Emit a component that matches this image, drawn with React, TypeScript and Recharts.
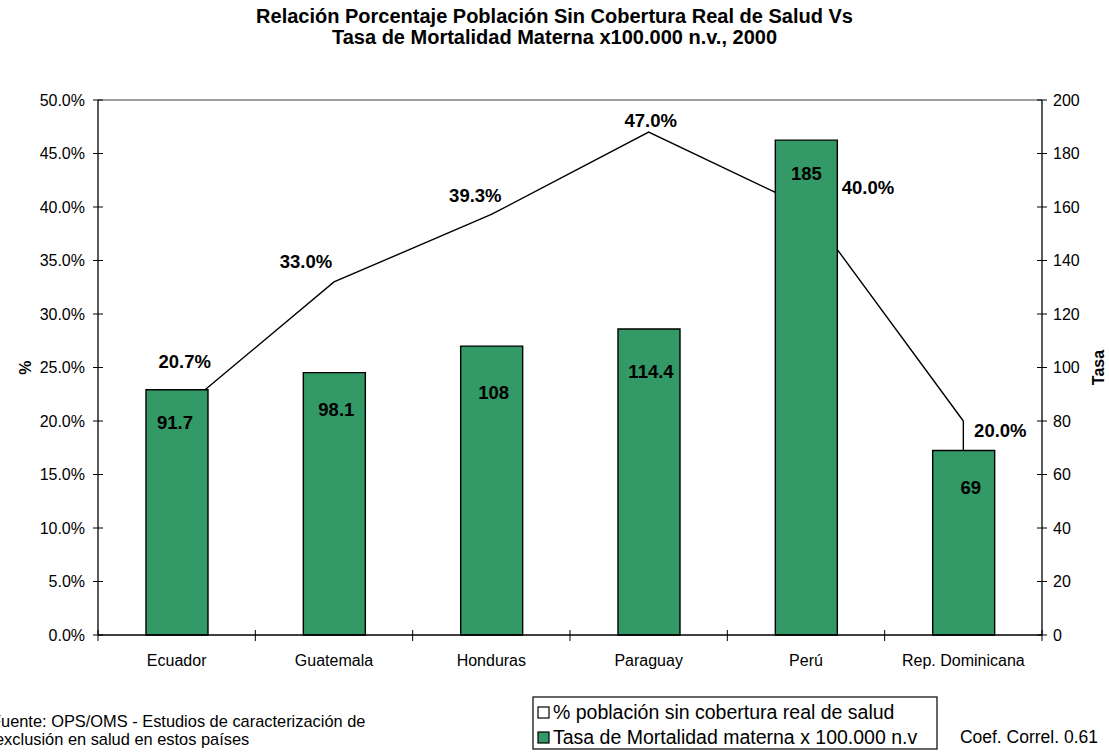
import {
  Bar,
  ComposedChart,
  LabelList,
  Line,
  ReferenceLine,
  XAxis,
  YAxis
} from "recharts";

const paises = ["Ecuador", "Guatemala", "Honduras", "Paraguay", "Perú", "Rep. Dominicana"];
const sinCobertura = [20.7, 33.0, 39.3, 47.0, 40.0, 20.0];
const mortalidad = [91.7, 98.1, 108, 114.4, 185, 69];
const pctTicks = [0, 5, 10, 15, 20, 25, 30, 35, 40, 45, 50];
const tasaTicks = [0, 20, 40, 60, 80, 100, 120, 140, 160, 180, 200];

// manual label placement, like the hand-moved labels in the original sheet
const lineLabelOffset: [number, number][] = [
  [8, -52],
  [-28, -21],
  [-16, -19],
  [2, -12],
  [62, -20],
  [37, 9]
];
const barLabelOffset: [number, number][] = [
  [-2, 33],
  [2, 37],
  [2, 46],
  [2, 42],
  [0, 33],
  [7, 37]
];

const W = 1109;
const H = 754;
const LEFT = 98;
const RIGHT = 67;
const TOP = 100;
const BOTTOM = 119;
const BAND = (W - LEFT - RIGHT) / paises.length;
const FONT = "'Liberation Sans', Arial, Helvetica, sans-serif";
const GREEN = "#339966";

const rows = paises.map((pais, i) => ({
  pais,
  pct: sinCobertura[i],
  tasa: mortalidad[i]
}));

function CategoryTick(props: any) {
  const { x, y, payload, index } = props;
  const left = x - BAND / 2;
  return (
    <g>
      <line x1={left} y1={y - 5} x2={left} y2={y + 6} stroke="#000" />
      {index === paises.length - 1 && (
        <line x1={left + BAND} y1={y - 5} x2={left + BAND} y2={y + 6} stroke="#000" />
      )}
      <text x={x} y={y + 31} textAnchor="middle" fontSize={16} fill="#000" fontFamily={FONT}>
        {payload.value}
      </text>
    </g>
  );
}

function PctTick(props: any) {
  const { x, y, payload } = props;
  return (
    <g>
      <line x1={x - 5} y1={y} x2={x + 5} y2={y} stroke="#000" />
      <text x={x - 13} y={y} dy="0.36em" textAnchor="end" fontSize={16} fill="#000" fontFamily={FONT}>
        {`${Number(payload.value).toFixed(1)}%`}
      </text>
    </g>
  );
}

function TasaTick(props: any) {
  const { x, y, payload } = props;
  return (
    <g>
      <line x1={x - 5} y1={y} x2={x + 5} y2={y} stroke="#000" />
      <text x={x + 11} y={y} dy="0.36em" textAnchor="start" fontSize={16} fill="#000" fontFamily={FONT}>
        {payload.value}
      </text>
    </g>
  );
}

function LineValueLabel(props: any) {
  const { x, y, value, index } = props;
  const [dx, dy] = lineLabelOffset[index];
  return (
    <text
      x={x + dx}
      y={y + dy}
      dy="0.36em"
      textAnchor="middle"
      fontSize={18.5}
      fontWeight="bold"
      fill="#000"
      fontFamily={FONT}
    >
      {`${Number(value).toFixed(1)}%`}
    </text>
  );
}

function BarValueLabel(props: any) {
  const { x, y, width, value, index } = props;
  const [dx, dy] = barLabelOffset[index];
  return (
    <text
      x={x + width / 2 + dx}
      y={y + dy}
      dy="0.36em"
      textAnchor="middle"
      fontSize={18.5}
      fontWeight="bold"
      fill="#000"
      fontFamily={FONT}
    >
      {String(value)}
    </text>
  );
}

export default function App() {
  const midY = TOP + (H - TOP - BOTTOM) / 2;
  const last = paises.length - 1;
  return (
    <div style={{ position: "absolute", left: 0, top: 0, width: W, height: H, background: "#fff" }}>
      <ComposedChart
        width={W}
        height={H}
        data={rows}
        margin={{ top: TOP, right: 0, bottom: 0, left: 0 }}
      >
        <XAxis
          dataKey="pais"
          height={BOTTOM}
          axisLine={{ stroke: "#000", strokeWidth: 1.3 }}
          tickLine={false}
          tickSize={0}
          tickMargin={0}
          interval={0}
          tick={<CategoryTick />}
        />
        <YAxis
          yAxisId="pct"
          width={LEFT}
          domain={[0, 50]}
          ticks={pctTicks}
          interval={0}
          axisLine={{ stroke: "#000", strokeWidth: 1.3 }}
          tickLine={false}
          tickSize={0}
          tickMargin={0}
          tick={<PctTick />}
        />
        <YAxis
          yAxisId="tasa"
          orientation="right"
          width={RIGHT}
          domain={[0, 200]}
          ticks={tasaTicks}
          interval={0}
          axisLine={{ stroke: "#000", strokeWidth: 1.3 }}
          tickLine={false}
          tickSize={0}
          tickMargin={0}
          tick={<TasaTick />}
        />
        <ReferenceLine yAxisId="pct" y={50} stroke="#808080" strokeWidth={1.3} />
        {/* short drop line on the last point, only visible above its bar */}
        <ReferenceLine
          yAxisId="pct"
          segment={[
            { x: paises[last], y: sinCobertura[last] },
            { x: paises[last], y: 0 }
          ]}
          stroke="#000"
          strokeWidth={1.4}
          zIndex={250}
        />
        <Line
          yAxisId="pct"
          dataKey="pct"
          type="linear"
          stroke="#000"
          strokeWidth={1.4}
          dot={false}
          activeDot={false}
          zIndex={250}
          isAnimationActive={false}
        />
        <Bar
          yAxisId="tasa"
          dataKey="tasa"
          barSize={62}
          fill={GREEN}
          stroke="#000"
          strokeWidth={1.4}
          isAnimationActive={false}
        >
          <LabelList dataKey="tasa" content={<BarValueLabel />} />
        </Bar>
        <Line
          yAxisId="pct"
          dataKey="pct"
          stroke="none"
          dot={false}
          activeDot={false}
          legendType="none"
          isAnimationActive={false}
        >
          <LabelList dataKey="pct" content={<LineValueLabel />} />
        </Line>
      </ComposedChart>

      <svg
        width={W}
        height={H}
        style={{ position: "absolute", left: 0, top: 0, pointerEvents: "none" }}
        fontFamily={FONT}
      >
        <text x={W / 2} y={23} textAnchor="middle" fontSize={20} fontWeight="bold">
          Relación Porcentaje Población Sin Cobertura Real de Salud Vs
        </text>
        <text x={W / 2} y={44} textAnchor="middle" fontSize={20} fontWeight="bold">
          Tasa de Mortalidad Materna x100.000 n.v., 2000
        </text>

        <text
          x={25}
          y={midY}
          transform={`rotate(-90 25 ${midY})`}
          textAnchor="middle"
          dy="0.36em"
          fontSize={16}
          fontWeight="bold"
        >
          %
        </text>
        <text
          x={1098}
          y={midY}
          transform={`rotate(-90 1098 ${midY})`}
          textAnchor="middle"
          dy="0.36em"
          fontSize={16}
          fontWeight="bold"
        >
          Tasa
        </text>

        <text x={-9} y={727} fontSize={16.4}>
          Fuente: OPS/OMS - Estudios de caracterización de
        </text>
        <text x={-5} y={745} fontSize={16.4}>
          exclusión en salud en estos países
        </text>

        <rect x={533} y={697} width={404} height={52} fill="#fff" stroke="#000" strokeWidth={1.2} />
        <rect x={538} y={707} width={11} height={11} fill="#fff" stroke="#000" strokeWidth={1.2} />
        <text x={553} y={719} fontSize={19.5}>
          % población sin cobertura real de salud
        </text>
        <rect x={538} y={732} width={11} height={11} fill={GREEN} stroke="#000" strokeWidth={1.2} />
        <text x={553} y={744} fontSize={19.5}>
          Tasa de Mortalidad materna x 100.000 n.v
        </text>

        <text x={1098} y={743} textAnchor="end" fontSize={17.5}>
          Coef. Correl. 0.61
        </text>
      </svg>
    </div>
  );
}
